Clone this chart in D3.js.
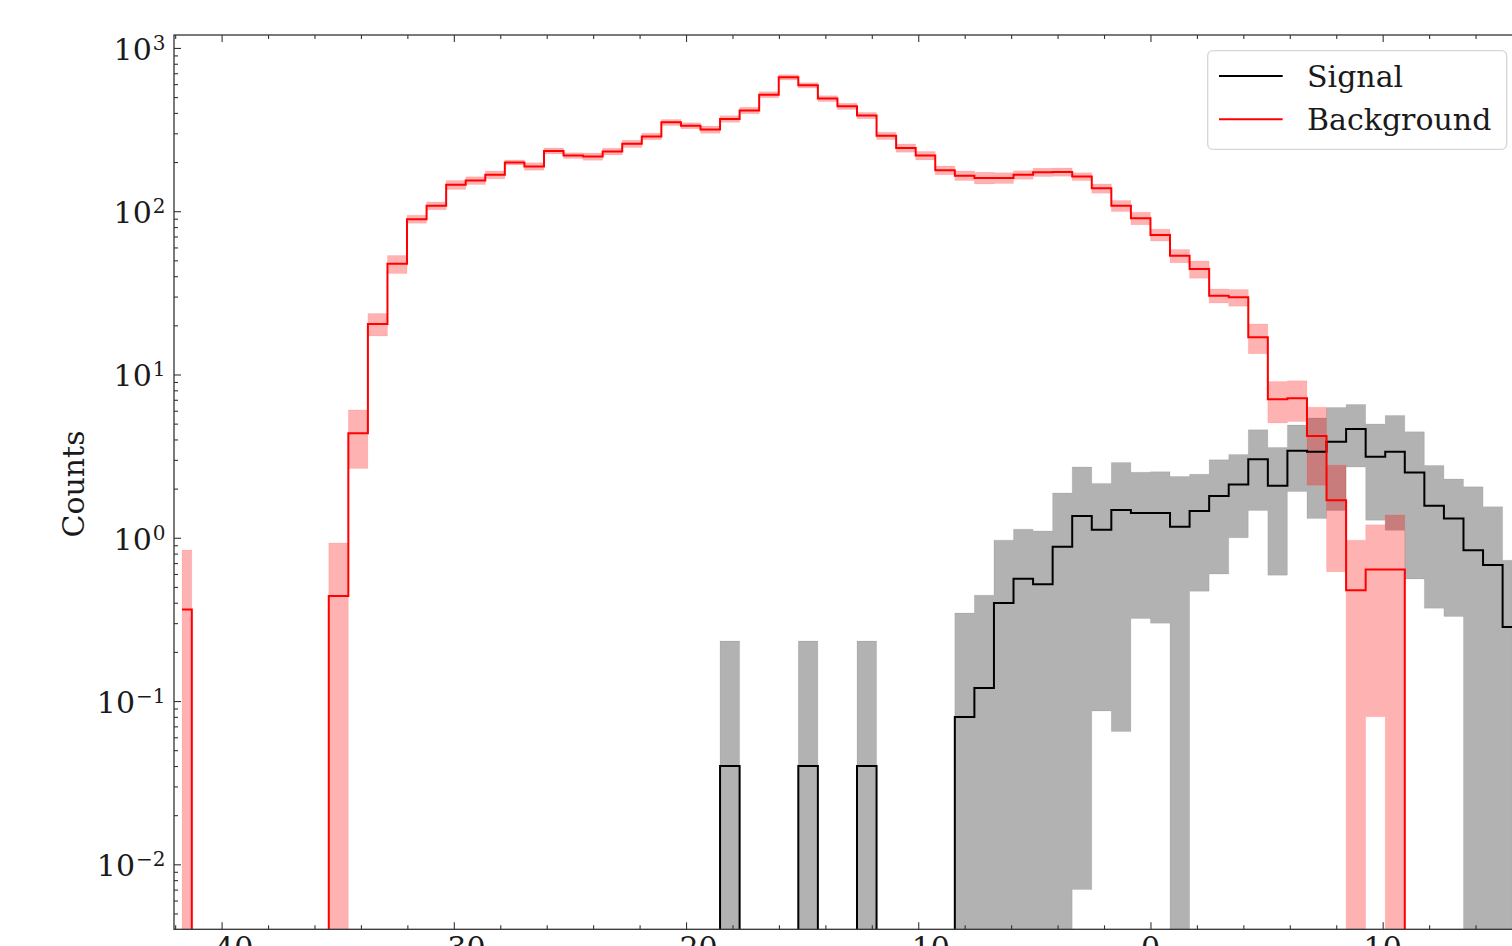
<!DOCTYPE html>
<html>
<head>
<meta charset="utf-8">
<script src="https://cdn.jsdelivr.net/npm/d3@7"></script>
<style>
  html, body { margin: 0; padding: 0; overflow: hidden; background: #fff; }
  text { font-family: "DejaVu Serif", serif; fill: #1a1a1a; }
</style>
</head>
<body>
<div id="chart"></div>
<script>
// histogram binning (100 bins over [-42.125, 42.125], only the left part is in view)
var binLo = -42.125,
    binWidth = 0.8425;

var background = [0.363, 0, 0, 0, 0, 0, 0, 0, 0.44, 4.36, 20.4, 47.6, 89.4, 108, 145, 154, 167, 199, 188, 234,
    219, 216, 232, 259, 287, 350, 334, 316, 367, 414, 517, 661, 590, 490, 439, 385, 290, 244, 219, 178,
    165, 160, 160, 167, 173, 174, 163, 138, 108, 90.7, 71.6, 53.3, 44.2, 30.4, 29.7, 16.9, 7.05, 7.15, 4.20, 1.70,
    0.477, 0.64, 0.64, 0, 0, 0, 0, 0, 0];

var backgroundErr = [0.48, 0, 0, 0, 0, 0, 0, 0, 0.49, 1.7, 3.2, 6, 5, 6, 9, 8.5, 9, 7, 10, 10,
    9, 11, 11, 13, 13, 15, 14, 16, 17, 19, 22, 25, 22, 20, 19, 17, 15, 14, 13, 11,
    11, 13, 12, 10, 10, 10, 9, 9, 8.5, 8, 6, 5, 5.4, 3, 3.5, 3.5, 2.0, 2.0, 2.1, 1.08,
    0.49, 0.56, 0.74, 0, 0, 0, 0, 0, 0];

var signal = [0, 0, 0, 0, 0, 0, 0, 0, 0, 0, 0, 0, 0, 0, 0, 0, 0, 0, 0, 0,
    0, 0, 0, 0, 0, 0, 0, 0, 0.04, 0, 0, 0, 0.04, 0, 0, 0.04, 0, 0, 0, 0,
    0.0798, 0.120, 0.399, 0.562, 0.520, 0.88, 1.36, 1.12, 1.48, 1.42, 1.42, 1.17, 1.46, 1.80, 2.12, 3.03, 2.08, 3.41, 3.36, 3.87,
    4.63, 3.13, 3.36, 2.51, 1.57, 1.31, 0.84, 0.68, 0.284];

var signalErr = [0, 0, 0, 0, 0, 0, 0, 0, 0, 0, 0, 0, 0, 0, 0, 0, 0, 0, 0, 0,
    0, 0, 0, 0, 0, 0, 0, 0, 0.193, 0, 0, 0, 0.193, 0, 0, 0.193, 0, 0, 0, 0,
    0.266, 0.325, 0.568, 0.567, 0.58, 1.0, 1.353, 1.033, 1.415, 1.10, 1.12, 1.2, 0.99, 1.2, 1.12, 1.56, 1.49, 1.49, 2.05, 2.4,
    1.92, 1.85, 2.25, 1.95, 1.2, 0.98, 1.21, 0.87, 0.445];

var xMajor = [-40, -30, -20, -10, 0, 10];
var yMajor = [1e-2, 1e-1, 1e0, 1e1, 1e2, 1e3];
var yExp = ["\u22122", "\u22121", "0", "1", "2", "3"];
var legendLabels = ["Signal", "Background"];

var margin = {top: 35, right: 38, bottom: 16.7, left: 174},
    fullW = 1560, fullH = 946,
    width = fullW - margin.left - margin.right,
    height = fullH - margin.top - margin.bottom;

var svg = d3.select("#chart")
    .append("svg")
    .attr("width", fullW)
    .attr("height", fullH)
    .style("display", "block");

var g = svg.append("g")
    .attr("transform", "translate(" + margin.left + "," + margin.top + ")");

var x = d3.scaleLinear().domain([-42.05, 16.0]).range([0, width]);
var y = d3.scaleLog().domain([0.004, 1200]).range([height, 0]);

// log scale: empty bins drop out below the axes
function yv(v) { return v > 0 ? y(v) : height + 2000; }

var centers = background.map(function (d, i) { return binLo + (i + 0.5) * binWidth; });

g.append("clipPath").attr("id", "plotclip")
    .append("rect").attr("width", width).attr("height", height);

var plot = g.append("g").attr("clip-path", "url(#plotclip)");

function band(vals, errs) {
    return d3.area()
        .curve(d3.curveStep)
        .x(function (d, i) { return x(centers[i]); })
        .y0(function (d, i) { return yv(vals[i] - errs[i]); })
        .y1(function (d, i) { return yv(vals[i] + errs[i]); })(vals);
}
function step(vals) {
    return d3.line()
        .curve(d3.curveStep)
        .x(function (d, i) { return x(centers[i]); })
        .y(function (d) { return yv(d); })(vals);
}

// error bands
plot.append("path")
    .attr("d", band(signal, signalErr))
    .attr("fill", "rgba(0,0,0,0.3)")
    .attr("stroke", "rgba(0,0,0,0.08)")
    .attr("stroke-width", 1);

plot.append("path")
    .attr("d", band(background, backgroundErr))
    .attr("fill", "rgba(255,0,0,0.3)")
    .attr("stroke", "rgba(255,0,0,0.08)")
    .attr("stroke-width", 1);

// step lines
plot.append("path")
    .attr("d", step(signal))
    .attr("fill", "none")
    .attr("stroke", "#000")
    .attr("stroke-width", 2);

plot.append("path")
    .attr("d", step(background))
    .attr("fill", "none")
    .attr("stroke", "#ff0000")
    .attr("stroke-width", 2);

// ticks, pointing inward on all four sides
var xMinor = d3.range(-42, 16.1, 2).filter(function (d) { return d % 10 !== 0; });
var yMinor = [];
[1e-3].concat(yMajor).forEach(function (m) {
    for (var k = 2; k <= 9; k++) yMinor.push(m * k);
});
yMinor = yMinor.filter(function (d) { return d > 0.004 && d < 1200; });

function ticks(axis, vals, size) {
    return axis.tickValues(vals).tickSize(-size).tickFormat("");
}

g.append("g").attr("transform", "translate(0," + height + ")").call(ticks(d3.axisBottom(x), xMajor, 7));
g.append("g").attr("transform", "translate(0," + height + ")").call(ticks(d3.axisBottom(x), xMinor, 4));
g.append("g").call(ticks(d3.axisTop(x), xMajor, 7));
g.append("g").call(ticks(d3.axisTop(x), xMinor, 4));
g.append("g").call(ticks(d3.axisLeft(y), yMajor, 7));
g.append("g").call(ticks(d3.axisLeft(y), yMinor, 4));
g.append("g").attr("transform", "translate(" + width + ",0)").call(ticks(d3.axisRight(y), yMajor, 7));
g.append("g").attr("transform", "translate(" + width + ",0)").call(ticks(d3.axisRight(y), yMinor, 4));

g.selectAll(".domain").remove();
g.selectAll(".tick line").attr("stroke", "#333").attr("stroke-width", 1.1);

// frame
g.append("rect")
    .attr("width", width)
    .attr("height", height)
    .attr("fill", "none")
    .attr("stroke", "#333")
    .attr("stroke-width", 1.3);

// x tick labels
g.selectAll(".xlab")
    .data(xMajor)
    .enter().append("text")
    .attr("class", "xlab")
    .attr("x", function (d) { return x(d); })
    .attr("y", height + 29)
    .attr("text-anchor", "middle")
    .style("font-size", "30px")
    .text(function (d) { return d3.format("")(d); });

// y tick labels 10^n
var ylab = g.selectAll(".ylab")
    .data(yMajor)
    .enter().append("text")
    .attr("class", "ylab")
    .attr("x", -8.5)
    .attr("y", function (d) { return y(d) + 12; })
    .attr("text-anchor", "end")
    .style("font-size", "30px");
ylab.append("tspan").text("10");
ylab.append("tspan")
    .attr("dy", -10)
    .attr("dx", 1)
    .style("font-size", "20px")
    .text(function (d, i) { return yExp[i]; });

// y axis label
svg.append("text")
    .attr("transform", "translate(84,484) rotate(-90)")
    .attr("text-anchor", "middle")
    .style("font-size", "30px")
    .text("Counts");

// legend
var legend = svg.append("g").attr("transform", "translate(1207.7,50.7)");
legend.append("rect")
    .attr("width", 299)
    .attr("height", 98.6)
    .attr("rx", 5)
    .attr("ry", 5)
    .attr("fill", "rgba(255,255,255,0.8)")
    .attr("stroke", "#d6d6d6")
    .attr("stroke-width", 1.3);

var colors = ["#000", "#ff0000"];
legendLabels.forEach(function (lab, i) {
    var ly = 25.3 + i * 43.3;
    legend.append("line")
        .attr("x1", 11.3).attr("x2", 75)
        .attr("y1", ly).attr("y2", ly)
        .attr("stroke", colors[i])
        .attr("stroke-width", 2);
    legend.append("text")
        .attr("x", 99.3)
        .attr("y", ly + 10.6)
        .style("font-size", "30px")
        .text(lab);
});
</script>
</body>
</html>
